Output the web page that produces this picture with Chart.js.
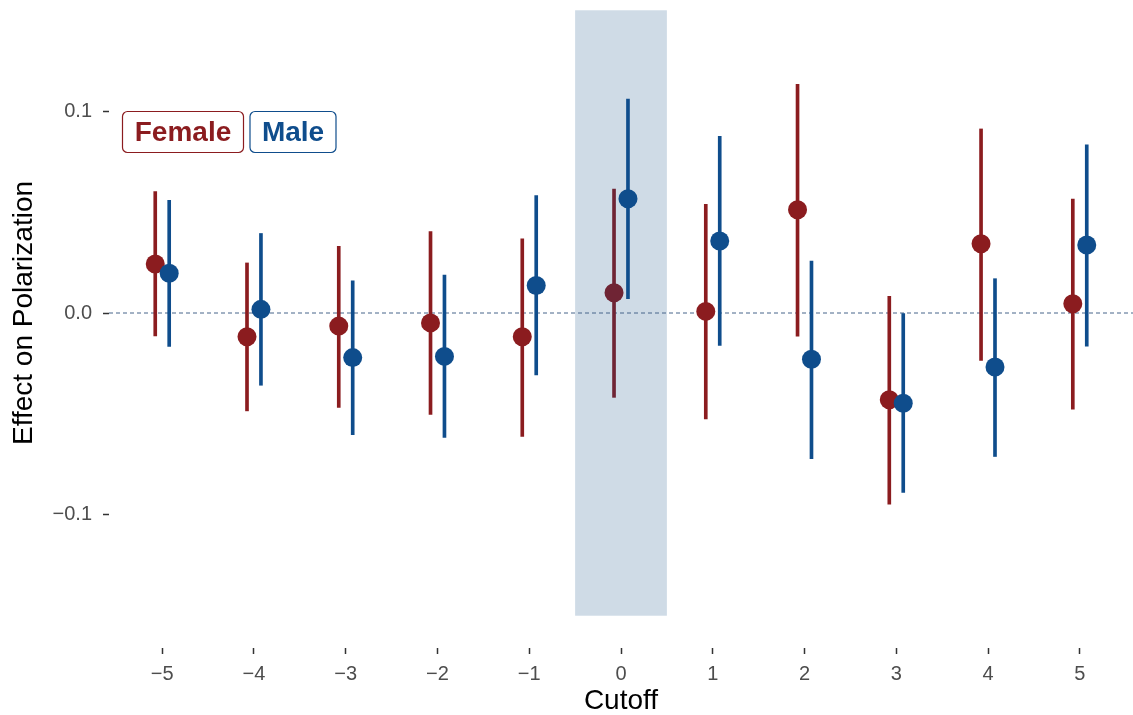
<!DOCTYPE html>
<html>
<head>
<meta charset="utf-8">
<script src="https://cdn.jsdelivr.net/npm/chart.js@4.4.1/dist/chart.umd.min.js"></script>
<style>
    html, body { margin: 0; padding: 0; background: #ffffff; overflow: hidden; }
    #wrap { position: absolute; left: 0; top: -22px; width: 1133px; height: 737px; }
</style>
</head>
<body>
<div id="wrap"><canvas id="effectChart"></canvas></div>
<script>
// Data
const cutoffs = [-5, -4, -3, -2, -1, 0, 1, 2, 3, 4, 5];
const femaleEst = [0.0243, -0.0118, -0.0065, -0.0049, -0.0118, 0.0100, 0.0008, 0.0512, -0.0430, 0.0343, 0.0046];
const femaleLo  = [-0.0113, -0.0485, -0.0468, -0.0503, -0.0612, -0.0418, -0.0525, -0.0115, -0.0947, -0.0235, -0.0476];
const femaleHi  = [0.0602, 0.0248, 0.0330, 0.0404, 0.0367, 0.0614, 0.0539, 0.1133, 0.0082, 0.0912, 0.0565];
const maleEst   = [0.0197, 0.0018, -0.0221, -0.0215, 0.0136, 0.0566, 0.0357, -0.0229, -0.0447, -0.0268, 0.0337];
const maleLo    = [-0.0165, -0.0358, -0.0603, -0.0616, -0.0307, 0.0071, -0.0161, -0.0722, -0.0889, -0.0711, -0.0164];
const maleHi    = [0.0558, 0.0394, 0.0159, 0.0188, 0.0582, 0.1060, 0.0876, 0.0257, 0.0000, 0.0170, 0.0833];
const yTicks = [-0.1, 0, 0.1];
const shadeRange = [-0.5, 0.5];
const shadeY = [-0.15, 0.15];
const dodge = 0.076;

const red = '#8b1c1f';
const redShaded = '#6f2434';
const blue = '#0f4d8c';
const minus = v => (v < 0 ? '\u2212' : '') + Math.abs(v);

function barData(lo, hi, shift) {
    return cutoffs.map((c, i) => ({ x: c + shift, y: [lo[i], hi[i]] }));
}
function pointData(est, shift) {
    return cutoffs.map((c, i) => ({ x: c + shift, y: est[i] }));
}
const femaleColors = cutoffs.map(c => (c === 0 ? redShaded : red));

// shaded window around the cutoff + dashed zero line
const backdrop = {
    id: 'backdrop',
    beforeDatasetsDraw: (chart) => {
        const { ctx, chartArea } = chart;
        const xs = chart.scales.x, ys = chart.scales.y;
        ctx.save();
        const x0 = xs.getPixelForValue(shadeRange[0]);
        const x1 = xs.getPixelForValue(shadeRange[1]);
        const y0 = ys.getPixelForValue(shadeY[1]);
        const y1 = ys.getPixelForValue(shadeY[0]);
        ctx.fillStyle = '#cfdbe6';
        ctx.fillRect(x0, y0, x1 - x0, y1 - y0);
        const yz = ys.getPixelForValue(0);
        ctx.strokeStyle = '#46658a';
        ctx.lineWidth = 1;
        ctx.setLineDash([4, 3]);
        ctx.beginPath();
        ctx.moveTo(chartArea.left, yz);
        ctx.lineTo(chartArea.right, yz);
        ctx.stroke();
        ctx.restore();
    }
};

// boxed labels in the top-left corner
const boxLabels = {
    id: 'boxLabels',
    afterDraw: (chart) => {
        const ctx = chart.ctx;
        const items = [
            { text: 'Female', color: red, x: 122, w: 121 },
            { text: 'Male', color: blue, x: 249.5, w: 86 }
        ];
        ctx.save();
        ctx.font = 'bold 28px "Liberation Sans", Arial, sans-serif';
        ctx.textAlign = 'center';
        ctx.textBaseline = 'middle';
        items.forEach(it => {
            const y = 111 + 22, h = 41;
            ctx.fillStyle = '#ffffff';
            ctx.strokeStyle = it.color;
            ctx.lineWidth = 1.2;
            ctx.beginPath();
            ctx.roundRect(it.x + 0.5, y + 0.5, it.w, h, 5);
            ctx.fill();
            ctx.stroke();
            ctx.fillStyle = it.color;
            ctx.fillText(it.text, it.x + it.w / 2 + 0.5, y + h / 2 + 2);
        });
        ctx.restore();
    }
};

const ctx = document.getElementById('effectChart');
new Chart(ctx, {
    type: 'scatter',
    data: {
        datasets: [{
            type: 'bar',
            label: 'Female CI',
            data: barData(femaleLo, femaleHi, -dodge),
            backgroundColor: femaleColors,
            barThickness: 3,
            grouped: false,
            order: 4
        }, {
            label: 'Female',
            data: pointData(femaleEst, -dodge),
            backgroundColor: femaleColors,
            borderWidth: 0,
            pointRadius: 9.5,
            order: 3
        }, {
            type: 'bar',
            label: 'Male CI',
            data: barData(maleLo, maleHi, dodge),
            backgroundColor: blue,
            barThickness: 3,
            grouped: false,
            order: 2
        }, {
            label: 'Male',
            data: pointData(maleEst, dodge),
            backgroundColor: blue,
            borderWidth: 0,
            pointRadius: 9.5,
            order: 1
        }]
    },
    plugins: [backdrop, boxLabels],
    options: {
        responsive: true,
        maintainAspectRatio: false,
        animation: false,
        layout: { padding: 0, autoPadding: false },
        plugins: {
            legend: { display: false },
            tooltip: { enabled: false }
        },
        scales: {
            x: {
                type: 'linear',
                min: -5.58,
                max: 5.58,
                offset: false,
                afterBuildTicks: s => { s.ticks = cutoffs.map(v => ({ value: v })); },
                afterFit: s => { s.height = 67; s.paddingLeft = 0; s.paddingRight = 0; },
                border: { display: false },
                grid: { offset: false, drawOnChartArea: false, tickLength: 6, tickColor: '#333333', tickWidth: 1.5 },
                ticks: {
                    padding: 8,
                    color: '#4d4d4d',
                    font: { family: '"Liberation Sans", Arial, sans-serif', size: 20 },
                    callback: v => minus(v)
                },
                title: {
                    display: true,
                    text: 'Cutoff',
                    color: '#000000',
                    padding: { top: 0, bottom: 0 },
                    font: { family: '"Liberation Sans", Arial, sans-serif', size: 28, lineHeight: 1 }
                }
            },
            y: {
                min: -0.166,
                max: 0.166,
                afterBuildTicks: s => { s.ticks = yTicks.map(v => ({ value: v })); },
                afterFit: s => { s.width = 109; s.paddingTop = 0; s.paddingBottom = 0; },
                border: { display: false },
                grid: { drawOnChartArea: false, tickLength: 6, tickColor: '#333333', tickWidth: 1.5 },
                ticks: {
                    padding: 11,
                    color: '#4d4d4d',
                    font: { family: '"Liberation Sans", Arial, sans-serif', size: 20 },
                    callback: v => (v < 0 ? '\u2212' : '') + Math.abs(v).toFixed(1)
                },
                title: {
                    display: true,
                    text: 'Effect on Polarization',
                    color: '#000000',
                    padding: { top: 10, bottom: 0 },
                    font: { family: '"Liberation Sans", Arial, sans-serif', size: 28, lineHeight: 1 }
                }
            }
        }
    }
});
</script>
</body>
</html>
